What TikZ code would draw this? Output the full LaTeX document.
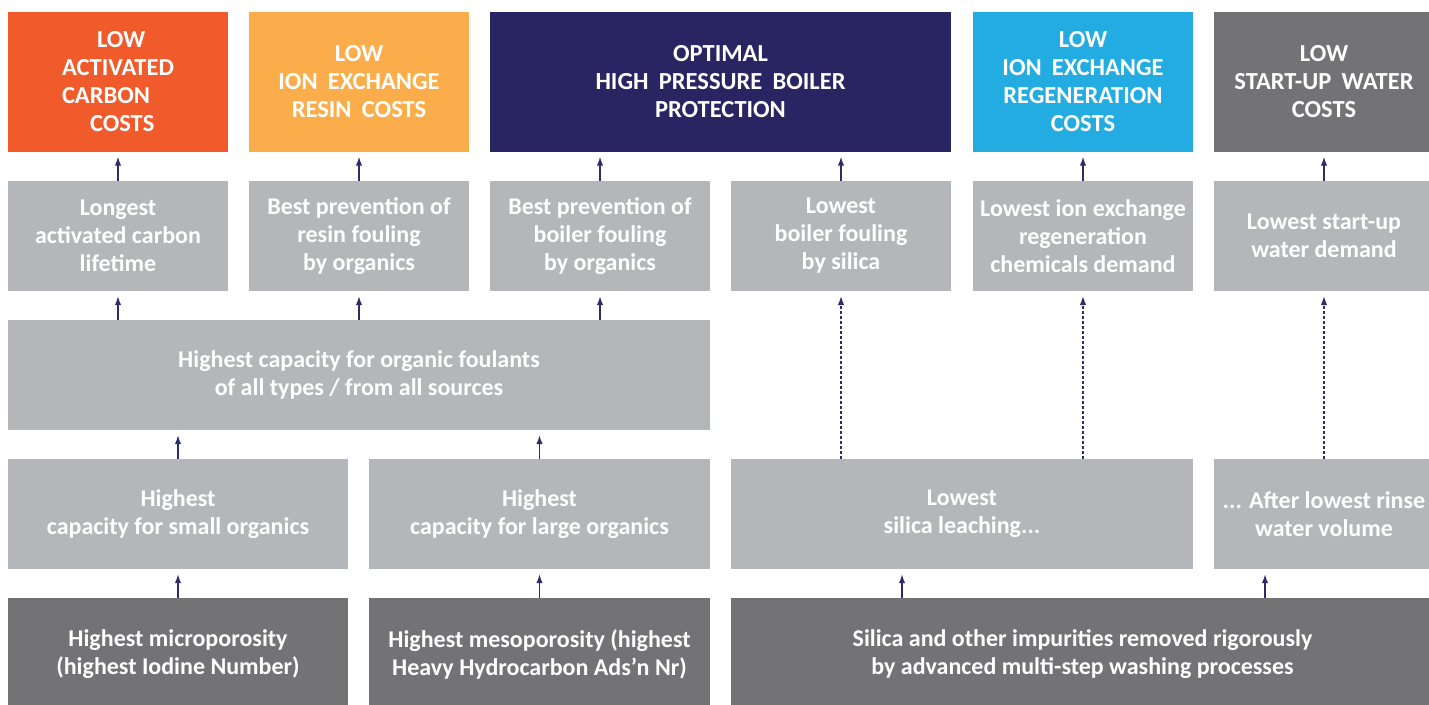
\documentclass[tikz,border=0pt]{standalone}
\usepackage{fontspec}
\setmainfont{Carlito}
\usetikzlibrary{arrows.meta}
\definecolor{corange}{HTML}{F15A2B}
\definecolor{cyellow}{HTML}{FBAD4B}
\definecolor{cnavy}{HTML}{282562}
\definecolor{csky}{HTML}{22ACE2}
\definecolor{cdark}{HTML}{737376}
\definecolor{clight}{HTML}{B5B6B9}
\definecolor{carrow}{HTML}{2D2C6C}
\newcommand\ws{\hspace{0.42em}}
\tikzset{
  box/.style={rectangle, inner sep=0pt, minimum width=220pt, minimum height=110pt,
    text=white, align=center, font=\fontsize{24}{28}\selectfont\bfseries},
  topbox/.style={box, minimum height=140pt, font=\fontsize{24.5}{28}\selectfont\bfseries},
  lbox/.style={box, fill=clight},
  dbox/.style={box, fill=cdark, minimum height=112pt},
  arr/.style={draw=carrow, line width=1.4pt, -{Latex[length=9pt,width=6.5pt]}, shorten >=5pt},
  darr/.style={arr, line width=1.1pt, dash pattern=on 3pt off 2pt},
}
\begin{document}
\begin{tikzpicture}[x=1pt,y=-1pt]
\useasboundingbox (0,0) rectangle (1429,704);
\clip (0,0) rectangle (1429,704);
% row 1
\node[topbox, fill=corange, align=left] (t1) at (118,81.5) {\hspace*{35pt}LOW\\ACTIVATED\\CARBON\\\hspace*{28pt}COSTS};
\node[topbox, fill=cyellow] (t2) at (359,81.5) {LOW\\ION\ws EXCHANGE\\RESIN\ws COSTS};
\node[topbox, fill=cnavy, minimum width=461pt] (t3) at (720.5,81.5) {OPTIMAL\\HIGH\ws PRESSURE\ws BOILER\\PROTECTION};
\node[topbox, fill=csky] (t4) at (1083,81.5) {LOW\\ION\ws EXCHANGE\\REGENERATION\\COSTS};
\node[topbox, fill=cdark] (t5) at (1324,81.5) {LOW\\START-UP\ws WATER\\COSTS};
% row 2
\node[lbox] (r2a) at (118,236) {Longest\\activated carbon\\lifetime};
\node[lbox] (r2b) at (359,236) {Best prevention of\\resin fouling\\by organics};
\node[lbox] (r2c) at (600,236) {Best prevention of\\boiler fouling\\by organics};
\node[lbox] (r2d) at (841,236) {Lowest\\boiler fouling\\by silica};
\node[lbox] (r2e) at (1083,236) {Lowest ion exchange\\regeneration\\chemicals demand};
\node[lbox] (r2f) at (1324,236) {Lowest start-up\\water demand};
% row 3
\node[lbox, minimum width=702pt] (r3) at (359,375) {Highest capacity for organic foulants\\of all types / from all sources};
% row 4
\node[lbox, minimum width=340pt] (r4a) at (178,514) {Highest\\capacity for small organics};
\node[lbox, minimum width=341pt] (r4b) at (539.5,514) {Highest\\capacity for large organics};
\node[lbox, minimum width=462pt] (r4c) at (962,514) {Lowest\\silica leaching...};
\node[lbox] (r4d) at (1324,514) {... After lowest rinse\\water volume};
% row 5
\node[dbox, minimum width=340pt] (r5a) at (178,654) {Highest microporosity\\(highest Iodine Number)};
\node[dbox, minimum width=341pt] (r5b) at (539.5,654) {Highest mesoporosity (highest\\Heavy Hydrocarbon Ads’n Nr)};
\node[dbox, minimum width=703pt] (r5c) at (1082.5,654) {Silica and other impurities removed rigorously\\by advanced multi-step washing processes};
% arrows row2 -> row1
\draw[arr] (r2a.north) -- (t1.south);
\draw[arr] (r2b.north) -- (t2.south);
\draw[arr] (r2c.north) -- (r2c.north |- t3.south);
\draw[arr] (r2d.north) -- (r2d.north |- t3.south);
\draw[arr] (r2e.north) -- (t4.south);
\draw[arr] (r2f.north) -- (t5.south);
% row3 -> row2
\draw[arr] (r2a.south |- r3.north) -- (r2a.south);
\draw[arr] (r2b.south |- r3.north) -- (r2b.south);
\draw[arr] (r2c.south |- r3.north) -- (r2c.south);
% row4 -> row3
\draw[arr] (r4a.north) -- (r4a.north |- r3.south);
\draw[arr] (r4b.north) -- (r4b.north |- r3.south);
% dashed row4 -> row2
\draw[darr] (r2d.south |- r4c.north) -- (r2d.south);
\draw[darr] (r2e.south |- r4c.north) -- (r2e.south);
\draw[darr] (r4d.north) -- (r2f.south);
% row5 -> row4
\draw[arr] (r5a.north) -- (r4a.south);
\draw[arr] (r5b.north) -- (r4b.south);
\coordinate (c1) at ([xshift=-60pt]r4c.south);
\coordinate (c2) at ([xshift=-59pt]r4d.south);
\draw[arr] (c1 |- r5c.north) -- (c1);
\draw[arr] (c2 |- r5c.north) -- (c2);
\end{tikzpicture}
\end{document}
